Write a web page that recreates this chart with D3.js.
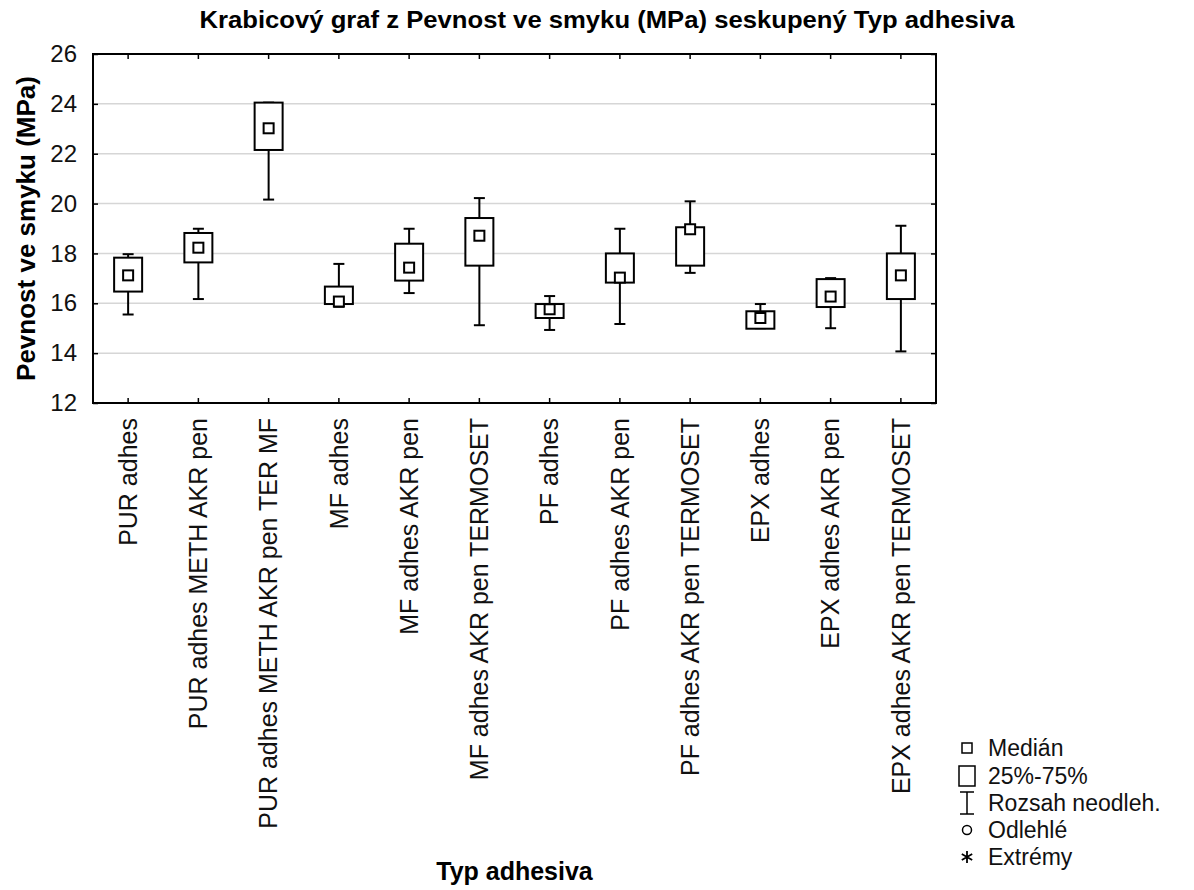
<!DOCTYPE html>
<html>
<head>
<meta charset="utf-8">
<script src="https://cdn.jsdelivr.net/npm/d3@7"></script>
<style>
  body { margin: 0; background: #fff; overflow: hidden; }
  svg { display: block; font-family: "Liberation Sans", Arial, sans-serif; }
</style>
</head>
<body>
<svg id="chart"></svg>
<script>
const categories = [
  "PUR adhes",
  "PUR adhes METH AKR pen",
  "PUR adhes METH AKR pen TER MF",
  "MF adhes",
  "MF adhes AKR pen",
  "MF adhes AKR pen TERMOSET",
  "PF adhes",
  "PF adhes AKR pen",
  "PF adhes AKR pen TERMOSET",
  "EPX adhes",
  "EPX adhes AKR pen",
  "EPX adhes AKR pen TERMOSET"
];
const whiskerLow = [15.55, 16.17, 20.16, 15.86, 16.41, 15.12, 14.93, 15.17, 17.22, 15.0, 15.0, 14.07];
const q1 = [16.47, 17.64, 22.15, 15.97, 16.91, 17.51, 15.41, 16.83, 17.51, 14.98, 15.85, 16.17];
const medians = [17.12, 18.23, 23.02, 16.07, 17.43, 18.71, 15.76, 17.03, 18.97, 15.41, 16.27, 17.12];
const q3 = [17.83, 18.82, 24.05, 16.67, 18.39, 19.42, 15.97, 18.0, 19.05, 15.68, 16.97, 18.0];
const whiskerHigh = [17.97, 18.99, 24.05, 17.58, 18.99, 20.22, 16.29, 18.99, 20.09, 15.97, 17.01, 19.11];
const yTicks = [12, 14, 16, 18, 20, 22, 24, 26];
const legendItems = ["Medián", "25%-75%", "Rozsah neodleh.", "Odlehlé", "Extrémy"];

const width = 1194;
const height = 890;
const margin = { top: 54, right: 258, bottom: 487, left: 93 };
const innerWidth = width - margin.left - margin.right;
const innerHeight = height - margin.top - margin.bottom;

const svg = d3.select("#chart")
  .attr("width", width)
  .attr("height", height);

const g = svg.append("g")
  .attr("transform", `translate(${margin.left},${margin.top})`);

const x = d3.scaleBand()
  .domain(categories)
  .range([0, innerWidth]);

const y = d3.scaleLinear()
  .domain([12, 26])
  .range([innerHeight, 0]);

// grid
g.append("g")
  .selectAll("line")
  .data(yTicks.slice(1, -1))
  .join("line")
  .attr("x1", 0)
  .attr("x2", innerWidth)
  .attr("y1", d => y(d))
  .attr("y2", d => y(d))
  .attr("stroke", "#d6d6d6")
  .attr("stroke-width", 1.5);

// left axis (labels) with inward ticks
const yAxisG = g.append("g")
  .call(d3.axisLeft(y).tickValues(yTicks).tickSize(-5).tickPadding(16))
  .attr("font-size", 24)
  .attr("font-family", null);
yAxisG.select(".domain").remove();
yAxisG.selectAll("line").attr("stroke", "#000").attr("stroke-width", 1.5);
yAxisG.selectAll("text").attr("fill", "#111");

// right ticks
g.append("g")
  .attr("transform", `translate(${innerWidth},0)`)
  .call(d3.axisRight(y).tickValues(yTicks).tickSize(-5).tickFormat(""))
  .call(a => a.select(".domain").remove())
  .selectAll("line").attr("stroke", "#000").attr("stroke-width", 1.5);

// bottom axis
const xAxisG = g.append("g")
  .attr("transform", `translate(0,${innerHeight})`)
  .call(d3.axisBottom(x).tickSize(-5).tickPadding(0))
  .attr("font-size", 25)
  .attr("font-family", null);
xAxisG.select(".domain").remove();
xAxisG.selectAll("line").attr("stroke", "#000").attr("stroke-width", 1.5);
xAxisG.selectAll("text")
  .attr("transform", "rotate(-90)")
  .attr("x", -15)
  .attr("y", 0)
  .attr("dy", "0.35em")
  .attr("text-anchor", "end")
  .attr("fill", "#111");

// top ticks
g.append("g")
  .call(d3.axisTop(x).tickSize(-5).tickFormat(""))
  .call(a => a.select(".domain").remove())
  .selectAll("line").attr("stroke", "#000").attr("stroke-width", 1.5);

// frame
g.append("rect")
  .attr("width", innerWidth)
  .attr("height", innerHeight)
  .attr("fill", "none")
  .attr("stroke", "#000")
  .attr("stroke-width", 2);

// boxes
const boxW = 28;
const capW = 11;
const medS = 10;
const boxes = g.append("g")
  .selectAll("g")
  .data(categories.map((c, i) => ({
    c, lo: whiskerLow[i], q1: q1[i], med: medians[i], q3: q3[i], hi: whiskerHigh[i]
  })))
  .join("g")
  .attr("transform", d => `translate(${x(d.c) + x.bandwidth() / 2},0)`)
  .attr("stroke", "#000")
  .attr("stroke-width", 2)
  .attr("fill", "none");

boxes.append("line")
  .attr("y1", d => y(d.q3)).attr("y2", d => y(d.hi));
boxes.append("line")
  .attr("y1", d => y(d.q1)).attr("y2", d => y(d.lo));
boxes.append("line")
  .attr("x1", -capW / 2).attr("x2", capW / 2)
  .attr("y1", d => y(d.hi)).attr("y2", d => y(d.hi));
boxes.append("line")
  .attr("x1", -capW / 2).attr("x2", capW / 2)
  .attr("y1", d => y(d.lo)).attr("y2", d => y(d.lo));
boxes.append("rect")
  .attr("x", -boxW / 2)
  .attr("width", boxW)
  .attr("y", d => y(d.q3))
  .attr("height", d => y(d.q1) - y(d.q3))
  .attr("fill", "#fff");
boxes.append("rect")
  .attr("x", -medS / 2)
  .attr("width", medS)
  .attr("y", d => y(d.med) - medS / 2)
  .attr("height", medS)
  .attr("fill", "#fff");

// titles
svg.append("text")
  .attr("x", 607)
  .attr("y", 28)
  .attr("text-anchor", "middle")
  .attr("textLength", 815)
  .attr("lengthAdjust", "spacingAndGlyphs")
  .style("font-size", "24px")
  .style("font-weight", "bold")
  .text("Krabicový graf z Pevnost ve smyku (MPa) seskupený  Typ adhesiva");

svg.append("text")
  .attr("transform", `translate(35,${margin.top + innerHeight / 2}) rotate(-90)`)
  .attr("text-anchor", "middle")
  .style("font-size", "26px")
  .style("font-weight", "bold")
  .text("Pevnost ve smyku (MPa)");

svg.append("text")
  .attr("x", margin.left + innerWidth / 2)
  .attr("y", 880)
  .attr("text-anchor", "middle")
  .style("font-size", "25px")
  .style("font-weight", "bold")
  .text("Typ adhesiva");

// legend
const legendY = [748, 776, 803, 830, 857];
const legend = svg.append("g").attr("transform", "translate(967,0)");
const items = legend.selectAll("g")
  .data(legendItems)
  .join("g")
  .attr("transform", (d, i) => `translate(0,${legendY[i]})`);
items.append("text")
  .attr("x", 21)
  .attr("dy", "0.35em")
  .style("font-size", "23px")
  .attr("fill", "#111")
  .text(d => d);

const icon = (i) => items.filter((d, j) => j === i);
icon(0).append("rect")
  .attr("x", -5).attr("y", -5).attr("width", 10).attr("height", 10)
  .attr("fill", "none").attr("stroke", "#000").attr("stroke-width", 1.5);
icon(1).append("rect")
  .attr("x", -8).attr("y", -10).attr("width", 16).attr("height", 20)
  .attr("fill", "none").attr("stroke", "#000").attr("stroke-width", 1.5);
icon(2).append("path")
  .attr("d", "M-7,-11H7M0,-11V11M-7,11H7")
  .attr("fill", "none").attr("stroke", "#000").attr("stroke-width", 1.5);
icon(3).append("circle")
  .attr("r", 4.5)
  .attr("fill", "none").attr("stroke", "#000").attr("stroke-width", 1.5);
icon(4).append("path")
  .attr("d", "M0,-6V6M-5.2,-3L5.2,3M-5.2,3L5.2,-3")
  .attr("fill", "none").attr("stroke", "#000").attr("stroke-width", 1.8);
</script>
</body>
</html>
